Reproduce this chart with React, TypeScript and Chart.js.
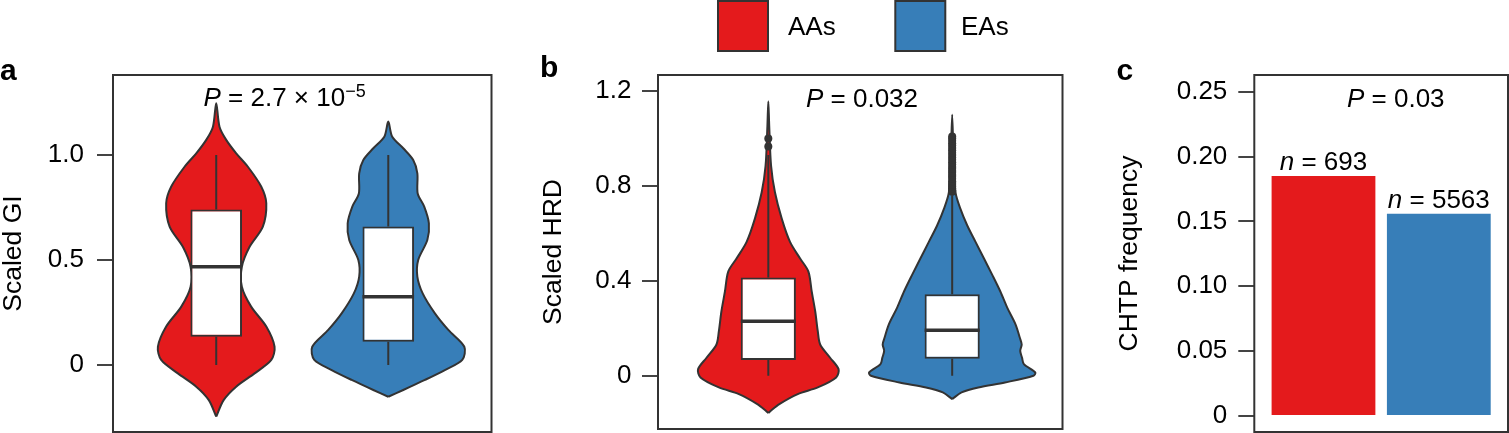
import React, { useEffect, useRef } from "react";
import { Chart, registerables } from "chart.js";

Chart.register(...registerables);

const FONT = "'Liberation Sans', Arial, Helvetica, sans-serif";
const INK = "#333333";

// ---------- shared ----------
const groups = ["AAs", "EAs"];
const groupColors = ["#E41A1C", "#377EB8"];
const groupPositions = [1, 2];

// ---------- panel a: scaled GI ----------
const giTickValues = [0, 0.5, 1.0];
const giTickLabels = ["0", "0.5", "1.0"];
const giAALevels = [-0.246, -0.167, -0.103, -0.04, 0.024, 0.087, 0.183, 0.278, 0.373, 0.468, 0.563, 0.659, 0.77, 0.849, 0.944, 1.008, 1.072, 1.135, 1.246];
const giAAHalfWidths = [0, 0.043, 0.116, 0.223, 0.32, 0.339, 0.291, 0.203, 0.149, 0.149, 0.194, 0.271, 0.291, 0.262, 0.184, 0.116, 0.058, 0.019, 0];
const giEALevels = [-0.151, -0.119, -0.071, -0.024, 0.024, 0.087, 0.167, 0.246, 0.341, 0.421, 0.5, 0.595, 0.675, 0.754, 0.817, 0.913, 0.976, 1.032, 1.087, 1.159];
const giEAHalfWidths = [0, 0.087, 0.213, 0.329, 0.43, 0.442, 0.349, 0.271, 0.2, 0.169, 0.174, 0.227, 0.236, 0.209, 0.171, 0.169, 0.145, 0.087, 0.023, 0];
const giAAStats = [0, 0.135, 0.468, 0.741, 1.0]; // min, q1, median, q3, max
const giEAStats = [0, 0.111, 0.325, 0.659, 1.0];
const giAAOutliers: number[] = [];
const giEAOutliers: number[] = [];
const giPMantissa = "2.7";
const giPExponent = "\u22125";

// ---------- panel b: scaled HRD ----------
const hrdTickValues = [0, 0.4, 0.8, 1.2];
const hrdTickLabels = ["0", "0.4", "0.8", "1.2"];
const hrdAALevels = [-0.157, -0.146, -0.119, -0.077, -0.049, -0.007, 0.028, 0.076, 0.132, 0.188, 0.272, 0.355, 0.439, 0.494, 0.564, 0.662, 0.773, 0.884, 1.051, 1.156];
const hrdAAHalfWidths = [0, 0.015, 0.06, 0.16, 0.269, 0.369, 0.382, 0.336, 0.282, 0.269, 0.255, 0.236, 0.218, 0.173, 0.118, 0.073, 0.036, 0.015, 0.005, 0];
const hrdEALevels = [-0.098, -0.07, -0.049, -0.028, 0.0, 0.014, 0.049, 0.076, 0.105, 0.132, 0.16, 0.216, 0.286, 0.355, 0.425, 0.494, 0.564, 0.633, 0.703, 0.773, 0.9, 1.1];
const hrdEAHalfWidths = [0, 0.051, 0.142, 0.287, 0.442, 0.452, 0.39, 0.38, 0.37, 0.378, 0.368, 0.345, 0.3, 0.262, 0.218, 0.173, 0.127, 0.082, 0.045, 0.018, 0.008, 0];
const hrdAAStats = [0, 0.067, 0.23, 0.414, 0.93];
const hrdEAStats = [0, 0.072, 0.192, 0.344, 0.76];
const hrdAAOutliers = [0.966, 1.0];
const hrdEAOutliers = [0.775, 0.782, 0.79, 0.797, 0.805, 0.812, 0.82, 0.83, 0.838, 0.846, 0.855, 0.863, 0.872, 0.88, 0.89, 0.9, 0.91, 0.92, 0.93, 0.94, 0.95, 0.96, 0.97, 0.98, 0.99, 1.0, 1.008];
const hrdP = "0.032";

// ---------- panel c: CHTP frequency ----------
const chtpTickValues = [0, 0.05, 0.1, 0.15, 0.2, 0.25];
const chtpTickLabels = ["0", "0.05", "0.10", "0.15", "0.20", "0.25"];
const chtpFrequency = [0.185, 0.156];
const chtpN = [693, 5563];
const chtpP = "0.03";

// ---------- helpers ----------
type Part = { t: string; italic?: boolean; sup?: boolean };

function drawRich(ctx: CanvasRenderingContext2D, x: number, y: number, parts: Part[], align: "left" | "center" = "left") {
  const fontFor = (p: Part) => `${p.italic ? "italic " : ""}${p.sup ? 18 : 26}px ${FONT}`;
  let total = 0;
  for (const p of parts) {
    ctx.font = fontFor(p);
    total += ctx.measureText(p.t).width;
  }
  let cx = align === "center" ? x - total / 2 : x;
  ctx.save();
  ctx.textAlign = "left";
  ctx.textBaseline = "alphabetic";
  ctx.fillStyle = "#000";
  for (const p of parts) {
    ctx.font = fontFor(p);
    ctx.fillText(p.t, cx, p.sup ? y - 9 : y);
    cx += ctx.measureText(p.t).width;
  }
  ctx.restore();
}

function drawLetter(ctx: CanvasRenderingContext2D, letter: string, x: number, y: number) {
  ctx.save();
  ctx.font = `bold 30px ${FONT}`;
  ctx.fillStyle = "#000";
  ctx.textAlign = "left";
  ctx.textBaseline = "alphabetic";
  ctx.fillText(letter, x, y);
  ctx.restore();
}

const framePlugin = {
  id: "frame",
  afterDatasetsDraw(chart: any) {
    const { ctx, chartArea: a } = chart;
    ctx.save();
    ctx.strokeStyle = INK;
    ctx.lineWidth = 2;
    ctx.strokeRect(a.left, a.top, a.right - a.left, a.bottom - a.top);
    ctx.restore();
  },
};

function violinOutline(levels: number[], half: number[], pos: number) {
  const right = levels.map((v, i) => ({ x: pos + half[i], y: v }));
  const left = levels
    .map((v, i) => ({ x: pos - half[i], y: v }))
    .reverse()
    .slice(1);
  return right.concat(left);
}

const BOX_HALF = 0.15;

function groupDatasets(levels: number[], half: number[], pos: number, color: string, stats: number[], outliers: number[]) {
  const [lo, q1, med, q3, hi] = stats;
  const base = { type: "line", pointRadius: 0, borderColor: INK, fill: false };
  return [
    { ...base, data: violinOutline(levels, half, pos), fill: "shape", backgroundColor: color, borderWidth: 2, tension: 0.3, order: 10 },
    { ...base, data: [{ x: pos, y: lo }, { x: pos, y: q1 }], borderWidth: 2, order: 9 },
    { ...base, data: [{ x: pos, y: q3 }, { x: pos, y: hi }], borderWidth: 2, order: 9 },
    { ...base, data: [{ x: pos - BOX_HALF, y: med }, { x: pos + BOX_HALF, y: med }], borderWidth: 3.5, order: 7 },
    {
      ...base,
      data: outliers.map((v) => ({ x: pos, y: v })),
      showLine: false,
      pointRadius: 4,
      pointBackgroundColor: INK,
      pointBorderWidth: 0,
      order: 6,
    },
  ];
}

function boxDataset(statsList: number[][]) {
  return {
    type: "bar",
    data: statsList.map((s, i) => ({ x: groupPositions[i], y: [s[1], s[3]] })),
    backgroundColor: "#ffffff",
    borderColor: INK,
    borderWidth: 2,
    borderSkipped: false,
    barPercentage: BOX_HALF * 2,
    categoryPercentage: 1,
    order: 8,
  };
}

function xScale() {
  return {
    type: "linear",
    min: 0.4,
    max: 2.6,
    display: false,
    offset: false,
    afterBuildTicks: (s: any) => {
      s.ticks = groupPositions.map((v) => ({ value: v }));
    },
  };
}

function yScale(min: number, max: number, tickValues: number[], tickLabels: string[], title: string, width: number, pad: number) {
  return {
    type: "linear",
    min,
    max,
    afterBuildTicks: (s: any) => {
      s.ticks = tickValues.map((v) => ({ value: v }));
    },
    afterFit: (s: any) => {
      s.width = width;
      s.paddingTop = 0;
      s.paddingBottom = 0;
    },
    ticks: {
      callback: (_v: any, i: number) => tickLabels[i],
      font: { size: 26, family: FONT },
      color: "#000",
      padding: pad,
      autoSkip: false,
      maxRotation: 0,
    },
    grid: { drawOnChartArea: false, drawTicks: true, tickLength: 16, color: "#444", lineWidth: 2 },
    border: { display: false },
    title: { display: true, text: title, font: { size: 26.5, family: FONT, lineHeight: 28 / 26.5 }, color: "#000", padding: 0 },
  };
}

const baseOptions = {
  responsive: false,
  animation: false,
  devicePixelRatio: 1,
  events: [],
  plugins: { legend: { display: false }, tooltip: { enabled: false } },
};

// ---------- configs ----------
function configA(): any {
  return {
    type: "line",
    data: {
      datasets: [
        ...groupDatasets(giAALevels, giAAHalfWidths, groupPositions[0], groupColors[0], giAAStats, giAAOutliers),
        ...groupDatasets(giEALevels, giEAHalfWidths, groupPositions[1], groupColors[1], giEAStats, giEAOutliers),
        boxDataset([giAAStats, giEAStats]),
      ],
    },
    options: {
      ...baseOptions,
      layout: { padding: { left: 0, right: 1017.5, top: 75, bottom: 1 } },
      scales: { x: xScale(), y: yScale(-0.319, 1.381, giTickValues, giTickLabels, "Scaled GI", 113, 13) },
    },
    plugins: [
      framePlugin,
      {
        id: "decorA",
        afterDraw(chart: any) {
          const ctx = chart.ctx;
          drawLetter(ctx, "a", 0, 80);
          drawRich(ctx, 203.5, 106, [{ t: "P", italic: true }, { t: ` = ${giPMantissa} \u00d7 10` }, { t: giPExponent, sup: true }]);
        },
      },
    ],
  };
}

function configB(): any {
  return {
    type: "line",
    data: {
      datasets: [
        ...groupDatasets(hrdAALevels, hrdAAHalfWidths, groupPositions[0], groupColors[0], hrdAAStats, hrdAAOutliers),
        ...groupDatasets(hrdEALevels, hrdEAHalfWidths, groupPositions[1], groupColors[1], hrdEAStats, hrdEAOutliers),
        boxDataset([hrdAAStats, hrdEAStats]),
      ],
    },
    options: {
      ...baseOptions,
      layout: { padding: { left: 540, right: 446.5, top: 75, bottom: 1 } },
      scales: { x: xScale(), y: yScale(-0.224, 1.267, hrdTickValues, hrdTickLabels, "Scaled HRD", 118, 10.5) },
    },
    plugins: [
      framePlugin,
      {
        id: "decorB",
        afterDraw(chart: any) {
          const ctx = chart.ctx;
          drawLetter(ctx, "b", 540, 77);
          drawRich(ctx, 806, 106.7, [{ t: "P", italic: true }, { t: ` = ${hrdP}` }]);
          // legend
          const boxX = [718, 895.3];
          const textX = [788, 961];
          groups.forEach((g, i) => {
            ctx.save();
            ctx.fillStyle = groupColors[i];
            ctx.fillRect(boxX[i], 1, 50, 50);
            ctx.strokeStyle = INK;
            ctx.lineWidth = 2;
            ctx.strokeRect(boxX[i], 1, 50, 50);
            ctx.restore();
            drawRich(ctx, textX[i], 35, [{ t: g }]);
          });
        },
      },
    ],
  };
}

function configC(): any {
  return {
    type: "bar",
    data: {
      datasets: [
        {
          data: chtpFrequency.map((f, i) => ({ x: groupPositions[i], y: f })),
          backgroundColor: groupColors,
          borderWidth: 0,
          barPercentage: 0.9,
          categoryPercentage: 1,
        },
      ],
    },
    options: {
      ...baseOptions,
      layout: { padding: { left: 1115.5, right: 1, top: 75, bottom: 1 } },
      scales: { x: xScale(), y: yScale(-0.0123, 0.2629, chtpTickValues, chtpTickLabels, "CHTP frequency", 138.8, 11) },
    },
    plugins: [
      framePlugin,
      {
        id: "decorC",
        afterDraw(chart: any) {
          const ctx = chart.ctx;
          const xs = chart.scales.x;
          const ys = chart.scales.y;
          drawLetter(ctx, "c", 1116.5, 80);
          drawRich(ctx, 1347, 106.7, [{ t: "P", italic: true }, { t: ` = ${chtpP}` }]);
          chtpFrequency.forEach((f, i) => {
            drawRich(ctx, xs.getPixelForValue(groupPositions[i]), ys.getPixelForValue(f) - 6, [{ t: "n", italic: true }, { t: ` = ${chtpN[i]}` }], "center");
          });
        },
      },
    ],
  };
}

function ChartLayer({ make }: { make: () => any }) {
  const ref = useRef<HTMLCanvasElement>(null);
  useEffect(() => {
    const chart = new Chart(ref.current as HTMLCanvasElement, make());
    return () => chart.destroy();
  }, []);
  return (
    <canvas
      ref={ref}
      width={1509}
      height={433}
      style={{ position: "absolute", left: 0, top: 0, width: 1509, height: 433 }}
    />
  );
}

export default function App() {
  return (
    <div style={{ position: "absolute", left: 0, top: 0, width: 1509, height: 433, background: "#fff" }}>
      <ChartLayer make={configA} />
      <ChartLayer make={configB} />
      <ChartLayer make={configC} />
    </div>
  );
}
